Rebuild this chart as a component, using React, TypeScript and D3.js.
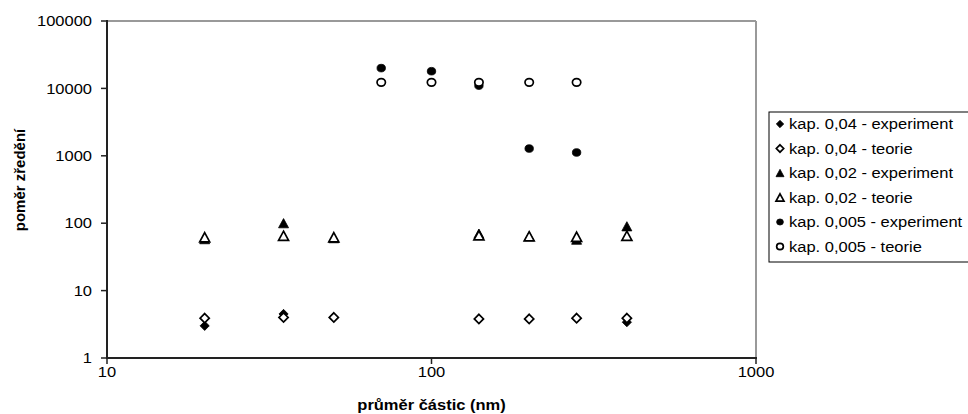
import React from "react";
import * as d3 from "d3";

const diameters = [20, 35, 50, 70, 100, 140, 200, 280, 400];
const kap004Exp = [3.0, 4.5, 4.0, null, null, 3.8, 3.8, 3.9, 3.4];
const kap004Teo = [3.9, 4.0, 4.0, null, null, 3.8, 3.8, 3.9, 3.9];
const kap002Exp = [58, 100, 60, null, null, 70, 64, 57, 90];
const kap002Teo = [62, 65, 62, null, null, 66, 64, 63, 65];
const kap0005Exp = [null, null, null, 20000, 18000, 11000, 1280, 1120, null];
const kap0005Teo = [null, null, null, 12300, 12300, 12300, 12300, 12300, null];

const xTicks = [10, 100, 1000];
const yTicks = [1, 10, 100, 1000, 10000, 100000];

const seriesNames = [
  "kap. 0,04 - experiment",
  "kap. 0,04 - teorie",
  "kap. 0,02 - experiment",
  "kap. 0,02 - teorie",
  "kap. 0,005 - experiment",
  "kap. 0,005 - teorie",
];

type Shape = "diamond" | "triangle" | "circle";
const series: { name: string; values: (number | null)[]; shape: Shape; filled: boolean }[] = [
  { name: seriesNames[0], values: kap004Exp, shape: "diamond", filled: true },
  { name: seriesNames[1], values: kap004Teo, shape: "diamond", filled: false },
  { name: seriesNames[2], values: kap002Exp, shape: "triangle", filled: true },
  { name: seriesNames[3], values: kap002Teo, shape: "triangle", filled: false },
  { name: seriesNames[4], values: kap0005Exp, shape: "circle", filled: true },
  { name: seriesNames[5], values: kap0005Teo, shape: "circle", filled: false },
];

const FONT = "Arial, 'Liberation Sans', sans-serif";
const FS = 15;
const SX = 1.1;

function T({ x, y, anchor = "start", bold = false, children }: { x: number; y: number; anchor?: string; bold?: boolean; children: React.ReactNode }) {
  return (
    <text
      transform={`translate(${x},${y}) scale(${SX},1)`}
      dy="0.35em"
      textAnchor={anchor}
      fontFamily={FONT}
      fontSize={FS}
      fontWeight={bold ? "bold" : "normal"}
      fill="#000"
    >
      {children}
    </text>
  );
}

function Marker({ shape, filled, x, y, s = 1 }: { shape: Shape; filled: boolean; x: number; y: number; s?: number }) {
  const fill = filled ? "#000" : "#fff";
  const sw = filled ? 0.8 : 1.7;
  if (shape === "diamond") {
    const w = 4.6 * s, h = 4.6 * s;
    return <path d={`M${x},${y - h}L${x + w},${y}L${x},${y + h}L${x - w},${y}Z`} fill={fill} stroke="#000" strokeWidth={sw} />;
  }
  if (shape === "triangle") {
    const w = 5.0 * s, h = 4.6 * s;
    return <path d={`M${x},${y - h}L${x + w},${y + h}L${x - w},${y + h}Z`} fill={fill} stroke="#000" strokeWidth={sw} />;
  }
  return <ellipse cx={x} cy={y} rx={4.2 * s} ry={3.8 * s} fill={fill} stroke="#000" strokeWidth={sw} />;
}

export default function App() {
  const left = 107, right = 756, top = 21, bottom = 358;
  const x = d3.scaleLog().domain([10, 1000]).range([left, right]);
  const y = d3.scaleLog().domain([1, 100000]).range([bottom, top]);

  const legX = 769, legY = 112, legH = 150, rowH = 24.5;

  return (
    <svg width={968} height={414} style={{ position: "absolute", left: 0, top: 0, background: "#fff" }}>
      <rect x={0} y={0} width={968} height={414} fill="#fff" />
      <line x1={left} y1={top} x2={right} y2={top} stroke="#999" strokeWidth={2} />
      <line x1={right} y1={top} x2={right} y2={bottom} stroke="#999" strokeWidth={2} />
      <line x1={left} y1={top - 1} x2={left} y2={bottom + 1} stroke="#222" strokeWidth={2} />
      <line x1={left - 1} y1={bottom} x2={right + 1} y2={bottom} stroke="#222" strokeWidth={2} />
      {yTicks.map((t) => (
        <g key={"y" + t}>
          <line x1={left - 6} x2={left} y1={y(t)} y2={y(t)} stroke="#222" strokeWidth={1.5} />
          <T x={92} y={y(t)} anchor="end">{d3.format("d")(t)}</T>
        </g>
      ))}
      {xTicks.map((t) => (
        <g key={"x" + t}>
          <line x1={x(t)} x2={x(t)} y1={bottom} y2={bottom + 6} stroke="#222" strokeWidth={1.5} />
          <T x={x(t)} y={372} anchor="middle">{d3.format("d")(t)}</T>
        </g>
      ))}
      <T x={(left + right) / 2} y={405} anchor="middle" bold>průměr částic (nm)</T>
      <text
        transform={`translate(20,180) rotate(-90)`}
        dy="0.35em"
        textAnchor="middle"
        fontFamily={FONT}
        fontSize={FS}
        fontWeight="bold"
      >
        poměr zředění
      </text>
      {series.map((s) => (
        <g key={s.name}>
          {s.values.map((v, i) =>
            v == null ? null : <Marker key={i} shape={s.shape} filled={s.filled} x={x(diameters[i])} y={y(v)} />
          )}
        </g>
      ))}
      <rect x={legX} y={legY} width={220} height={legH} fill="#fff" stroke="#000" strokeWidth={1} />
      {series.map((s, i) => (
        <g key={"l" + s.name}>
          <Marker shape={s.shape} filled={s.filled} x={780} y={legY + 12 + i * rowH} s={0.8} />
          <T x={789} y={legY + 12 + i * rowH}>{s.name}</T>
        </g>
      ))}
    </svg>
  );
}
